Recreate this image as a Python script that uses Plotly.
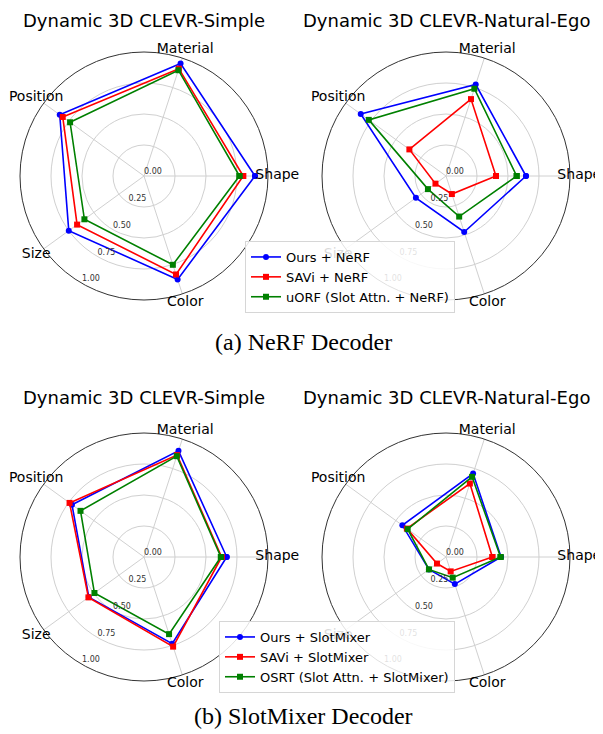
import plotly.graph_objects as go

categories = ["Shape", "Material", "Position", "Size", "Color"]
radial_ticks = [0.0, 0.25, 0.5, 0.75, 1.0]
radial_tick_text = ["0.00", "0.25", "0.50", "0.75", "1.00"]

# (a) NeRF decoder
nerf_simple_ours = [0.895, 0.954, 0.84, 0.75, 0.877]
nerf_simple_savi = [0.80, 0.91, 0.81, 0.667, 0.835]
nerf_simple_uorf = [0.77, 0.897, 0.737, 0.594, 0.753]

nerf_ego_ours = [0.645, 0.776, 0.85, 0.30, 0.475]
nerf_ego_savi = [0.403, 0.652, 0.365, 0.105, 0.153]
nerf_ego_uorf = [0.57, 0.74, 0.77, 0.18, 0.344]

# (b) SlotMixer decoder
mix_simple_ours = [0.667, 0.90, 0.718, 0.55, 0.736]
mix_simple_savi = [0.626, 0.864, 0.742, 0.554, 0.76]
mix_simple_osrt = [0.62, 0.855, 0.633, 0.494, 0.654]

mix_ego_ours = [0.444, 0.707, 0.435, 0.17, 0.23]
mix_ego_savi = [0.374, 0.623, 0.39, 0.09, 0.122]
mix_ego_osrt = [0.44, 0.68, 0.382, 0.17, 0.175]

titles = ["Dynamic 3D CLEVR-Simple", "Dynamic 3D CLEVR-Natural-Ego"]
captions = ["(a) NeRF Decoder", "(b) SlotMixer Decoder"]
names_nerf = ["Ours + NeRF", "SAVi + NeRF", "uORF (Slot Attn. + NeRF)"]
names_mix = ["Ours + SlotMixer", "SAVi + SlotMixer", "OSRT (Slot Attn. + SlotMixer)"]

colors = ["#0000ff", "#ff0000", "#008000"]
symbols = ["circle", "square", "square"]

# page body has an 8px default margin; lay out in reference pixels and shift
OFF = 8
W, H = 603 - OFF, 734 - OFF
FONT = "DejaVu Sans"
LABEL_R = 1.075     # category labels just outside the outer ring
OUTER = 1.09        # radial extent of the label overlay
RLABEL_ANGLE = 240  # direction of the radial tick labels


def px(x):
    return (x - OFF) / W


def py(y):
    return 1 - (y - OFF) / H


def closed(v):
    return list(v) + [v[0]]


def dom(cx, cy, rad):
    return dict(x=[px(cx - rad), px(cx + rad)], y=[py(cy + rad), py(cy - rad)])


fig = go.Figure()

panels = [
    ("polar", "polar5", [nerf_simple_ours, nerf_simple_savi, nerf_simple_uorf], names_nerf, "legend", True, (144, 176)),
    ("polar2", "polar6", [nerf_ego_ours, nerf_ego_savi, nerf_ego_uorf], names_nerf, "legend", False, (446, 176)),
    ("polar3", "polar7", [mix_simple_ours, mix_simple_savi, mix_simple_osrt], names_mix, "legend2", True, (144, 557)),
    ("polar4", "polar8", [mix_ego_ours, mix_ego_savi, mix_ego_osrt], names_mix, "legend2", False, (446, 557)),
]
R = 124
n = len(categories)
cat_angles = [i * 360 / n for i in range(n)]

for sub, over, series, names, leg, show, (cx, cy) in panels:
    for vals, name, col, sym in zip(series, names, colors, symbols):
        fig.add_trace(go.Scatterpolar(
            r=closed(vals), theta=closed(categories), subplot=sub,
            mode="lines+markers", name=name,
            line=dict(color=col, width=1.6),
            marker=dict(color=col, symbol=sym, size=6),
            legend=leg, showlegend=show,
        ))
    # overlay polar (same centre and scale, slightly larger extent) for labels
    fig.add_trace(go.Scatterpolar(
        r=[LABEL_R] * n, theta=cat_angles, subplot=over,
        mode="text", text=categories, textposition="middle center",
        textfont=dict(family=FONT, size=14, color="black"),
        showlegend=False, hoverinfo="skip",
    ))
    fig.add_trace(go.Scatterpolar(
        r=radial_ticks, theta=[RLABEL_ANGLE] * len(radial_ticks), subplot=over,
        mode="text", text=radial_tick_text, textposition="top right",
        textfont=dict(family=FONT, size=8, color="#333333"),
        showlegend=False, hoverinfo="skip",
    ))

    fig.update_layout({sub: dict(
        domain=dom(cx, cy, R),
        bgcolor="white",
        radialaxis=dict(
            range=[0, 1.0], tickvals=radial_ticks, showticklabels=False,
            showline=False, ticks="",
            gridcolor="#d0d0d0", gridwidth=1,
        ),
        angularaxis=dict(
            direction="counterclockwise", rotation=0,
            showline=True, linecolor="#333333", linewidth=1,
            gridcolor="#d0d0d0", gridwidth=1, ticks="",
            showticklabels=False,
        ),
    )})
    fig.update_layout({over: dict(
        domain=dom(cx, cy, R * OUTER),
        bgcolor="rgba(0,0,0,0)",
        radialaxis=dict(range=[0, OUTER], visible=False),
        angularaxis=dict(direction="counterclockwise", rotation=0, thetaunit="degrees",
                         visible=False),
    )})

annotations = []
for (cx, cy), t in zip([(144, 8), (446, 8), (144, 385), (446, 385)], titles * 2):
    annotations.append(dict(text=t, x=px(cx), y=py(cy), xref="paper", yref="paper",
                            showarrow=False, xanchor="center", yanchor="top",
                            font=dict(family=FONT, size=18, color="black")))
for cy, c in zip([342, 716], captions):
    annotations.append(dict(text=c, x=px(303.5), y=py(cy), xref="paper", yref="paper",
                            showarrow=False, xanchor="center", yanchor="middle",
                            font=dict(family="Liberation Serif", size=24, color="black")))

leg_style = dict(bgcolor="rgba(255,255,255,0.85)", bordercolor="#d6d6d6", borderwidth=1,
                 font=dict(family=FONT, size=13, color="black"),
                 xanchor="left", yanchor="top", tracegroupgap=0)

fig.update_layout(
    width=W, height=H,
    margin=dict(l=0, r=0, t=0, b=0),
    paper_bgcolor="white",
    showlegend=True,
    legend=dict(x=px(245), y=py(241), **leg_style),
    legend2=dict(x=px(219), y=py(621), **leg_style),
    annotations=annotations,
)

fig.write_html("out.html")
